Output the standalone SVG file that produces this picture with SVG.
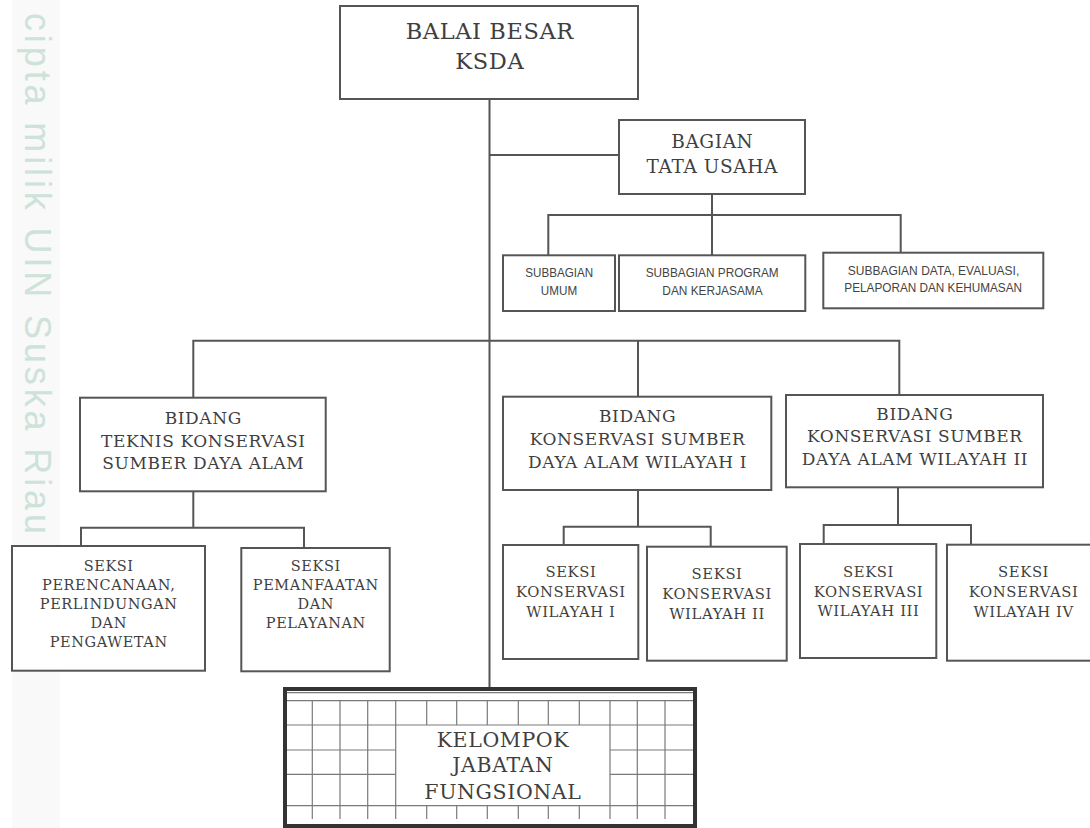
<svg xmlns="http://www.w3.org/2000/svg" width="1090" height="828" viewBox="0 0 1090 828">
<style>
.box{fill:#fff;stroke:#555;stroke-width:2}
.ln{stroke:#555;stroke-width:2;fill:none}
.grid{stroke:#7a7a7a;stroke-width:1.2;fill:none}
.serif{font-family:"DejaVu Serif","Liberation Serif",serif;fill:#3f3f3f;text-anchor:middle;letter-spacing:0.6px}
.sans{font-family:"Liberation Sans",Arial,sans-serif;fill:#444;text-anchor:middle;font-size:13.5px}
.wm{font-family:"Liberation Sans",Arial,sans-serif;fill:#cde2d9;font-size:36px}
</style>
<rect width="1090" height="828" fill="#fff"/>
<rect x="12" y="0" width="48" height="828" fill="#f8f9f8"/>
<text class="wm" transform="translate(25,13) rotate(90)" textLength="521" lengthAdjust="spacing">cipta milik UIN Suska Riau</text>

<g id="connectors">
<path class="ln" d="M489.5,99V689"/>
<path class="ln" d="M489.5,155H619"/>
<path class="ln" d="M712,194V255"/>
<path class="ln" d="M548.3,255V215H900.7V252.7"/>
<path class="ln" d="M193.3,397.7V340.7H899.3V395"/>
<path class="ln" d="M638,340.7V396.7"/>
<path class="ln" d="M193.3,491.3V527.7"/>
<path class="ln" d="M81,546V527.7H304V548"/>
<path class="ln" d="M638,490V526.7"/>
<path class="ln" d="M563.7,545V526.7H710.7V546.7"/>
<path class="ln" d="M898,487.3V525"/>
<path class="ln" d="M823.7,544V525H971V544.7"/>
</g>

<g id="balai-besar">
<rect class="box" x="340" y="6" width="298" height="93"/>
<text class="serif" font-size="22.5" x="489.8" y="39.3">BALAI BESAR</text>
<text class="serif" font-size="22.5" x="489.8" y="69.3">KSDA</text>
</g>

<g id="bagian-tata-usaha">
<rect class="box" x="619" y="120" width="186" height="74"/>
<text class="serif" font-size="18.5" x="712.3" y="148.3">BAGIAN</text>
<text class="serif" font-size="18.5" x="712.3" y="172.7">TATA USAHA</text>
</g>

<g id="subbagian-umum">
<rect class="box" x="503" y="255.3" width="112" height="55.7"/>
<text class="sans" x="559.2" y="277.3" textLength="67.7" lengthAdjust="spacingAndGlyphs">SUBBAGIAN</text>
<text class="sans" x="559" y="295" textLength="36.3" lengthAdjust="spacingAndGlyphs">UMUM</text>
</g>

<g id="subbagian-program">
<rect class="box" x="619" y="255.3" width="186.3" height="55.7"/>
<text class="sans" x="712.2" y="277.3" textLength="133" lengthAdjust="spacingAndGlyphs">SUBBAGIAN PROGRAM</text>
<text class="sans" x="712.5" y="295" textLength="100.4" lengthAdjust="spacingAndGlyphs">DAN KERJASAMA</text>
</g>

<g id="subbagian-data">
<rect class="box" x="823.3" y="252.7" width="220" height="55.6"/>
<text class="sans" x="933.5" y="275" textLength="171.6" lengthAdjust="spacingAndGlyphs">SUBBAGIAN DATA, EVALUASI,</text>
<text class="sans" x="933.2" y="292.3" textLength="177.7" lengthAdjust="spacingAndGlyphs">PELAPORAN DAN KEHUMASAN</text>
</g>

<g id="bidang-teknis">
<rect class="box" x="80" y="397.7" width="245.7" height="93.6"/>
<text class="serif" font-size="17" x="203.3" y="424">BIDANG</text>
<text class="serif" font-size="17" x="203.3" y="446.5">TEKNIS KONSERVASI</text>
<text class="serif" font-size="17" x="203.3" y="469">SUMBER DAYA ALAM</text>
</g>

<g id="bidang-ksda-1">
<rect class="box" x="503" y="396.7" width="268.3" height="93.3"/>
<text class="serif" font-size="17" x="637.6" y="422.3">BIDANG</text>
<text class="serif" font-size="17" x="637.6" y="444.7">KONSERVASI SUMBER</text>
<text class="serif" font-size="17" x="637.6" y="468">DAYA ALAM WILAYAH I</text>
</g>

<g id="bidang-ksda-2">
<rect class="box" x="786" y="395" width="257" height="92.3"/>
<text class="serif" font-size="17" x="914.9" y="419.5">BIDANG</text>
<text class="serif" font-size="17" x="914.9" y="442.3">KONSERVASI SUMBER</text>
<text class="serif" font-size="17" x="914.9" y="464.7">DAYA ALAM WILAYAH II</text>
</g>

<g id="seksi-perencanaan">
<rect class="box" x="12" y="546" width="193" height="124.7"/>
<text class="serif" font-size="14.5" x="108.7" y="570.7">SEKSI</text>
<text class="serif" font-size="14.5" x="108.7" y="590">PERENCANAAN,</text>
<text class="serif" font-size="14.5" x="108.7" y="609">PERLINDUNGAN</text>
<text class="serif" font-size="14.5" x="108.7" y="628">DAN</text>
<text class="serif" font-size="14.5" x="108.7" y="647.3">PENGAWETAN</text>
</g>

<g id="seksi-pemanfaatan">
<rect class="box" x="241.3" y="548" width="148.4" height="123.3"/>
<text class="serif" font-size="14.5" x="315.8" y="570.7">SEKSI</text>
<text class="serif" font-size="14.5" x="315.8" y="590">PEMANFAATAN</text>
<text class="serif" font-size="14.5" x="315.8" y="609">DAN</text>
<text class="serif" font-size="14.5" x="315.8" y="628">PELAYANAN</text>
</g>

<g id="seksi-wilayah-1">
<rect class="box" x="503" y="545" width="135.3" height="114"/>
<text class="serif" font-size="14.8" x="570.9" y="577.3">SEKSI</text>
<text class="serif" font-size="14.8" x="570.9" y="597.3">KONSERVASI</text>
<text class="serif" font-size="14.8" x="570.9" y="617.3">WILAYAH I</text>
</g>

<g id="seksi-wilayah-2">
<rect class="box" x="647" y="546.7" width="139.7" height="114"/>
<text class="serif" font-size="14.8" x="717.1" y="579">SEKSI</text>
<text class="serif" font-size="14.8" x="717.1" y="599">KONSERVASI</text>
<text class="serif" font-size="14.8" x="717.1" y="619">WILAYAH II</text>
</g>

<g id="seksi-wilayah-3">
<rect class="box" x="800" y="544" width="136.3" height="114"/>
<text class="serif" font-size="14.8" x="868.5" y="576.7">SEKSI</text>
<text class="serif" font-size="14.8" x="868.5" y="596.7">KONSERVASI</text>
<text class="serif" font-size="14.8" x="868.5" y="615.7">WILAYAH III</text>
</g>

<g id="seksi-wilayah-4">
<rect class="box" x="947" y="544.7" width="153" height="116"/>
<text class="serif" font-size="14.8" x="1023.6" y="577.3">SEKSI</text>
<text class="serif" font-size="14.8" x="1023.6" y="597.3">KONSERVASI</text>
<text class="serif" font-size="14.8" x="1023.6" y="617.3">WILAYAH IV</text>
</g>

<g id="kelompok-jabatan-fungsional">
<rect x="285" y="689" width="410" height="137" fill="#fff" stroke="#333" stroke-width="4"/>
<path class="grid" d="M287,692.7H693M287,700.7H693M287,725H693M287,805.7H693M287,750H395.7M610,750H693M287,774.3H395.7M610,774.3H693"/>
<path class="grid" d="M312.3,700.7V819M340,700.7V819M367.7,700.7V819M395.7,700.7V819M610,700.7V819M637.3,700.7V819M665,700.7V819"/>
<path class="grid" d="M426.7,700.7V725M456.7,700.7V725M487.3,700.7V725M518.3,700.7V725M548.3,700.7V725M579.3,700.7V725"/>
<path class="grid" d="M426.7,805.7V819M456.7,805.7V819M487.3,805.7V819M518.3,805.7V819M548.3,805.7V819M579.3,805.7V819"/>
<text class="serif" font-size="20.5" x="502.9" y="747.3">KELOMPOK</text>
<text class="serif" font-size="20.5" x="502.9" y="772.3">JABATAN</text>
<text class="serif" font-size="20.5" x="502.9" y="799">FUNGSIONAL</text>
</g>
</svg>
